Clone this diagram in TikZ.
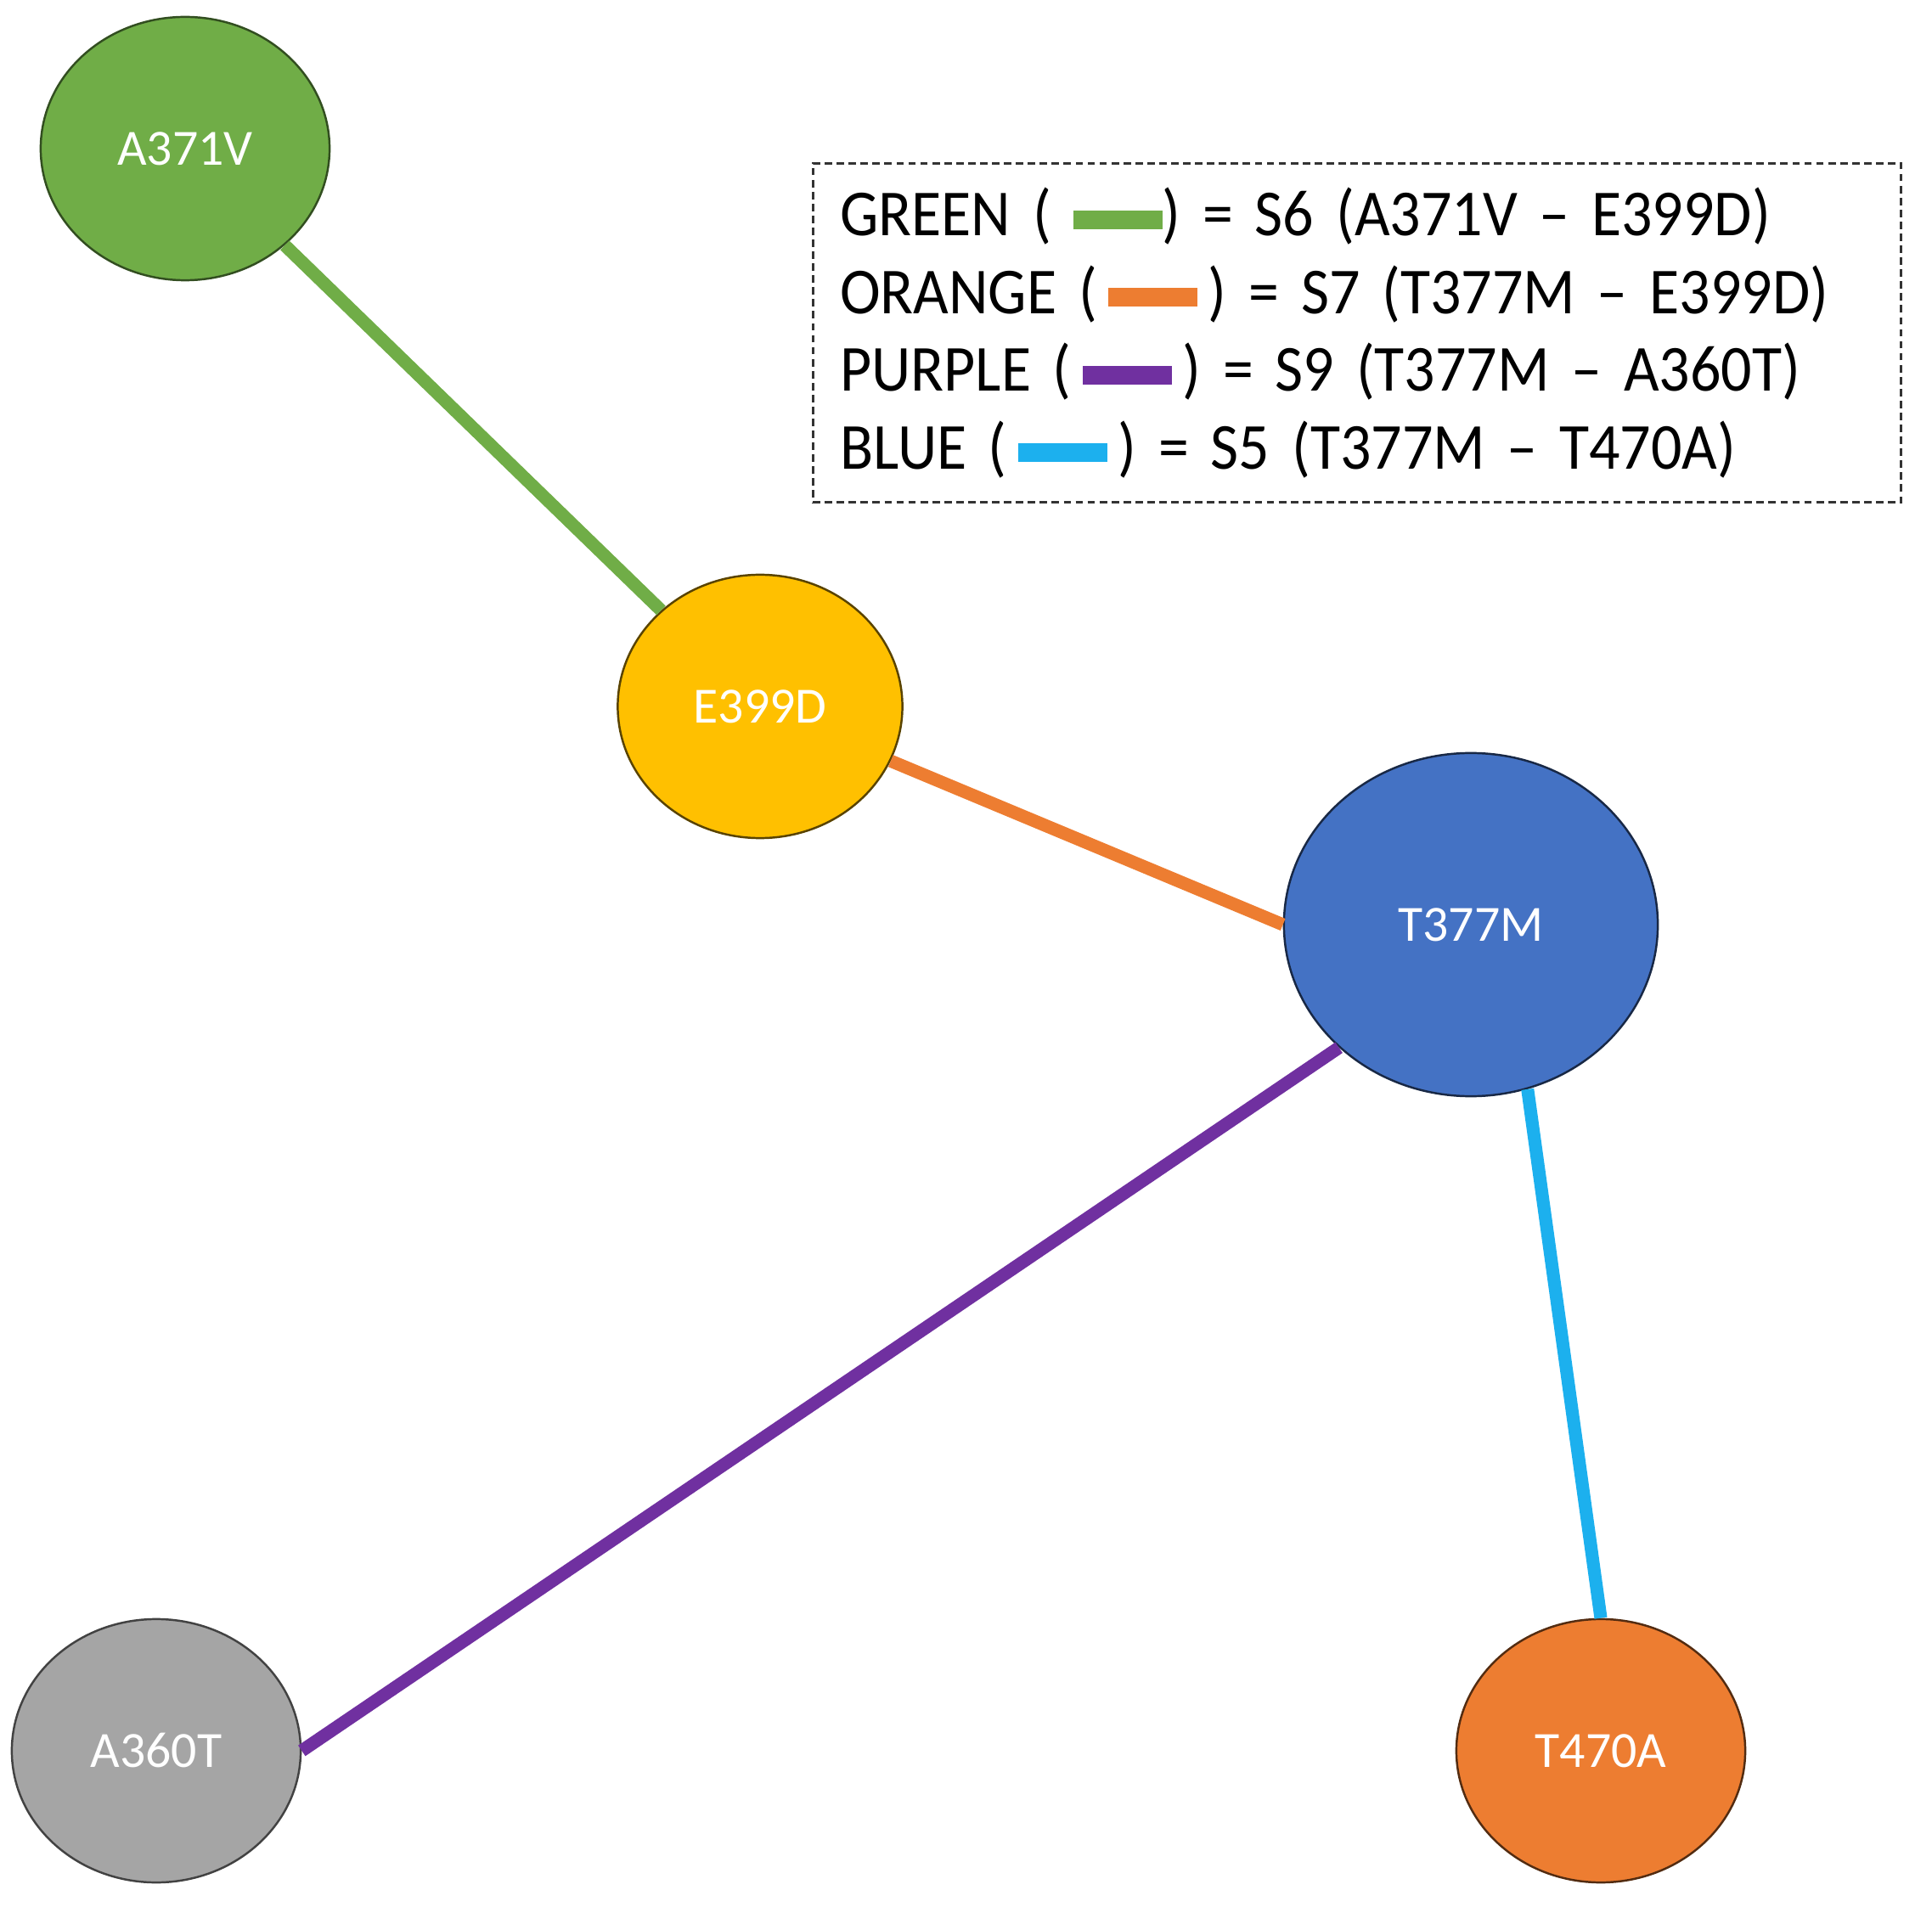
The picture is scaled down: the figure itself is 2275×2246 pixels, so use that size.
\documentclass[tikz,border=0pt]{standalone}
\usepackage{fontspec}
\setmainfont{Carlito}
\newfontfamily\legendfont{Carlito}[FakeStretch=0.93,WordSpace=0.6]
\usetikzlibrary{shapes.geometric}
\definecolor{nodegreen}{HTML}{70AD47}
\definecolor{nodeyellow}{HTML}{FFC000}
\definecolor{nodeblue}{HTML}{4472C4}
\definecolor{nodegray}{HTML}{A5A5A5}
\definecolor{nodeorange}{HTML}{ED7D31}
\definecolor{linkgreen}{HTML}{70AD47}
\definecolor{linkorange}{HTML}{ED7D31}
\definecolor{linkpurple}{HTML}{7030A0}
\definecolor{linkblue}{HTML}{1CB0EE}
\newcommand\legendbar[1]{\textcolor{#1}{\rule[0.08cm]{1.05cm}{0.22cm}}}
\begin{document}
\begin{tikzpicture}[x=0.01cm,y=-0.01cm,
    mutation/.style={ellipse,inner sep=0mm,text=white,line width=0.7pt,
      font=\fontsize{17}{20}\selectfont},
    small mutation/.style={mutation,minimum width=3.4cm,minimum height=3.1cm},
    link/.style={line width=4.3pt}]
    \useasboundingbox (0,0) rectangle (2275,2246);

    \node[small mutation,fill=nodegreen,draw=nodegreen!45!black] (node-A371V) at (218,175) {A371V};
    \node[small mutation,fill=nodeyellow,draw=nodeyellow!35!black,
      minimum width=3.35cm] (node-E399D) at (895,832) {E399D};
    \node[mutation,fill=nodeblue,draw=nodeblue!35!black,
      minimum width=4.4cm,minimum height=4.04cm] (node-T377M) at (1732,1089) {T377M};
    \node[small mutation,fill=nodegray,draw=nodegray!40!black] (node-A360T) at (184,2062) {A360T};
    \node[small mutation,fill=nodeorange,draw=nodeorange!35!black] (node-T470A) at (1885,2062) {T470A};

    \draw[link,linkgreen] (node-A371V) -- (node-E399D);
    \draw[link,linkorange] (node-E399D) -- (node-T377M.west);
    \draw[link,linkpurple] (node-A360T.east) -- (node-T377M.223);
    \draw[link,linkblue] (node-T377M.-71) -- (node-T470A.north);

    \node[draw=black!80,line width=0.8pt,dash pattern=on 2.5pt off 1.5pt,
      minimum height=3.99cm,text width=12.17cm,inner xsep=0.32cm,align=left,
      font=\legendfont\fontsize{22}{26}\selectfont] (legend) at (1598,392)
      {GREEN ( \legendbar{linkgreen}) = S6 (A371V – E399D)\\
       ORANGE (\,\legendbar{linkorange}\,) = S7 (T377M – E399D)\\
       PURPLE (\,\legendbar{linkpurple}\,) = S9 (T377M – A360T)\\
       BLUE (\,\legendbar{linkblue}\,) = S5 (T377M – T470A)};
\end{tikzpicture}
\end{document}
